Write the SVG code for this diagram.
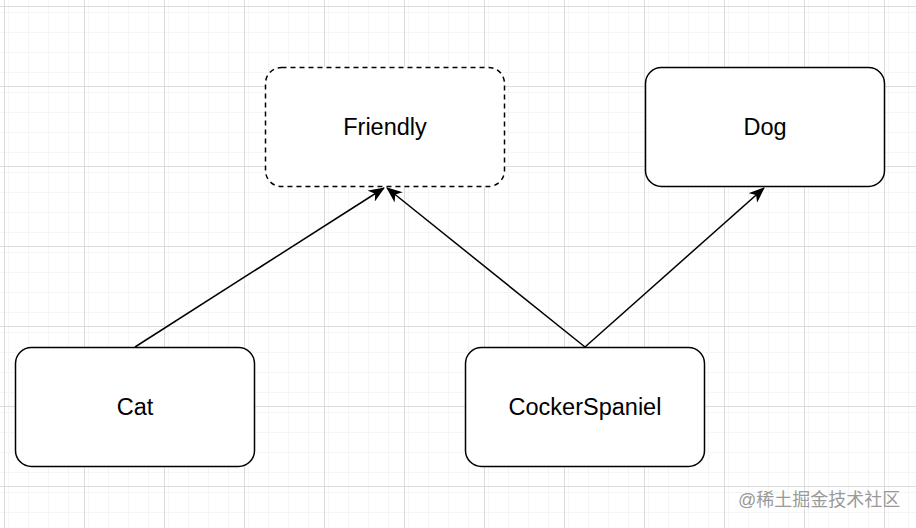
<svg xmlns="http://www.w3.org/2000/svg" width="916" height="528" viewBox="0 0 916 528">
  <defs>
    <pattern id="minor" x="4" y="6" width="20" height="20" patternUnits="userSpaceOnUse">
      <path d="M0.5 0 V20 M0 0.5 H20" fill="none" stroke="#f5f5f5" stroke-width="1"/>
    </pattern>
    <pattern id="major" x="4" y="6" width="80" height="80" patternUnits="userSpaceOnUse">
      <rect width="80" height="80" fill="url(#minor)"/>
      <path d="M0.5 0 V80 M0 0.5 H80" fill="none" stroke="#dcdcdc" stroke-width="1"/>
    </pattern>
    <marker id="arrow" viewBox="0 0 16 13" refX="15" refY="6.5" markerWidth="16" markerHeight="13" markerUnits="userSpaceOnUse" orient="auto">
      <path d="M0 0 L16 6.5 L0 13 L4.5 6.5 Z" fill="#000"/>
    </marker>
    <style>
      .box { fill: #fff; stroke: #000; stroke-width: 1.5; }
      .dashed { stroke-dasharray: 5 4; }
      .label { font-family: "Liberation Sans", Arial, sans-serif; font-size: 23.5px; fill: #000; text-anchor: middle; }
      .edge { fill: none; stroke: #000; stroke-width: 1.5; marker-end: url(#arrow); }
      .wm { font-family: "Liberation Sans", "Noto Sans CJK SC", sans-serif; font-size: 18px; fill: #9a9a9a; }
    </style>
  </defs>
  <rect width="916" height="528" fill="#fff"/>
  <rect width="916" height="528" fill="url(#major)"/>

  <g id="connectors">
    <line class="edge" x1="135" y1="347" x2="384" y2="188"/>
    <line class="edge" x1="585" y1="347" x2="387" y2="188"/>
    <line class="edge" x1="585" y1="347" x2="764" y2="188"/>
  </g>

  <g id="friendly">
    <rect class="box dashed" x="265.5" y="67.5" width="239" height="119" rx="16"/>
    <text class="label" x="385" y="135">Friendly</text>
  </g>
  <g id="dog">
    <rect class="box" x="645.5" y="67.5" width="239" height="119" rx="16"/>
    <text class="label" x="765" y="135">Dog</text>
  </g>
  <g id="cat">
    <rect class="box" x="15.5" y="347.5" width="239" height="119" rx="16"/>
    <text class="label" x="135" y="415">Cat</text>
  </g>
  <g id="cockerspaniel">
    <rect class="box" x="465.5" y="347.5" width="239" height="119" rx="16"/>
    <text class="label" x="585" y="415">CockerSpaniel</text>
  </g>

  <text class="wm" x="738" y="506">@稀土掘金技术社区</text>
</svg>
